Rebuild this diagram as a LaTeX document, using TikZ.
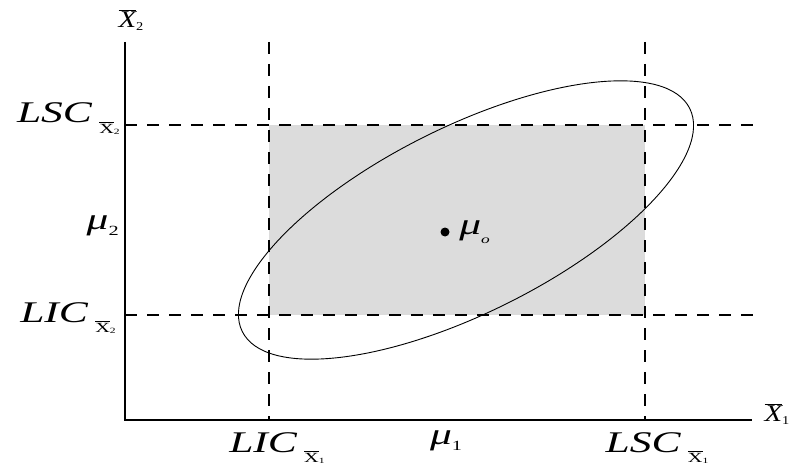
\documentclass[tikz,border=0pt]{standalone}
\usepackage{fontspec}
\setmainfont{Liberation Serif}
\begin{document}
\begin{tikzpicture}[x=1pt,y=-1pt,
  axis/.style={line width=1.3pt},
  guide/.style={line width=1.1pt,dash pattern=on 12pt off 10pt},
  big/.style={font=\fontsize{30}{30}\selectfont\itshape,inner sep=0pt,xscale=1.45,transform shape},
  axlab/.style={font=\fontsize{24}{24}\selectfont\itshape,inner sep=0pt,xscale=1.2,transform shape}]
\newcommand\subX[1]{\,\raisebox{-10pt}{\fontsize{14}{14}\selectfont\upshape$\overline{\mbox{X}}$\raisebox{-0.2ex}{\fontsize{8}{8}\selectfont #1}}}
\newcommand\axX[1]{$\overline{\mbox{\itshape X}}$\raisebox{-0.3ex}{\fontsize{12}{12}\selectfont\upshape #1}}
\useasboundingbox (0,0) rectangle (792,468);
\fill[white] (0,0) rectangle (792,468);
\definecolor{boxgray}{RGB}{220,220,220}
\fill[boxgray] (269,125) rectangle (645,315);
\coordinate (O) at (125,420);
\coordinate (Ytop) at (125,42);
\coordinate (Xend) at (752,420);
\coordinate (v1t) at (269,42); \coordinate (v1b) at (269,420);
\coordinate (v2t) at (645,42); \coordinate (v2b) at (645,420);
\coordinate (h1l) at (125,125); \coordinate (h1r) at (757,125);
\coordinate (h2l) at (125,315); \coordinate (h2r) at (757,315);
\draw[guide] (v1t) -- (v1b);
\draw[guide] (v2t) -- (v2b);
\draw[guide] (h1l) -- (h1r);
\draw[guide] (h2l) -- (h2r);
\draw[axis] (Ytop) -- (O) -- (Xend);
\draw[line width=0.9pt,rotate around={26.5:(466,220)}] (466,220) ellipse [x radius=250, y radius=93];
\fill (445,232) circle (4.5pt);
\node[coordinate] (mu0dot) at (445,232) {};
\node[big,anchor=west] (mu0) at (459,232) {μ\raisebox{-0.7ex}{\fontsize{12}{12}\selectfont o}};
\node[axlab] (X2) at (131,20) {\axX{2}};
\node[axlab] (X1) at (777,414) {\axX{1}};
\node[big,anchor=base east] (lscy) at (120,123) {LSC\subX{2}};
\node[big,anchor=east] (mu2) at (119,226) {μ\raisebox{-0.4ex}{\fontsize{14}{14}\selectfont\upshape 2}};
\node[big,anchor=base east] (licy) at (116,322) {LIC\subX{2}};
\node[big,anchor=base] (licx) at (277,452) {LIC\subX{1}};
\node[big] (mu1) at (446,441) {μ\raisebox{-0.4ex}{\fontsize{14}{14}\selectfont\upshape 1}};
\node[big,anchor=base] (lscx) at (657,452) {LSC\subX{1}};
\end{tikzpicture}
\end{document}
